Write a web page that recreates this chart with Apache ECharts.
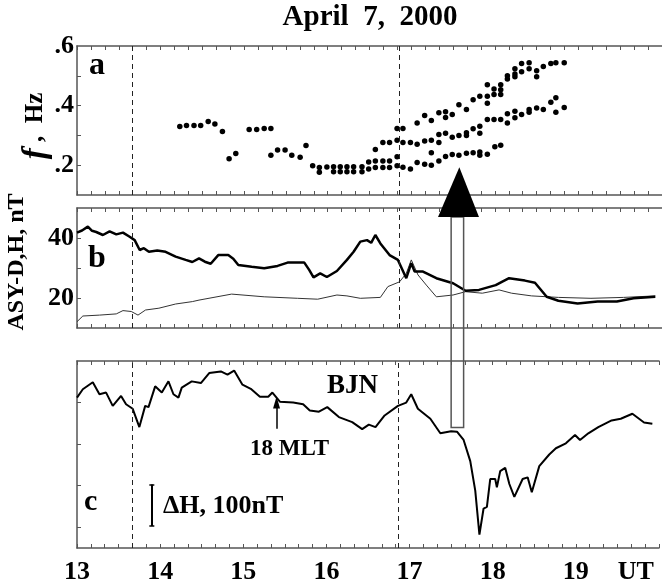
<!DOCTYPE html>
<html>
<head>
<meta charset="utf-8">
<script src="https://cdn.jsdelivr.net/npm/echarts@6/dist/echarts.min.js"></script>
<style>
  html, body { margin: 0; padding: 0; background: #fff; }
  #chart { width: 662px; height: 585px; }
</style>
</head>
<body>
<div id="chart"></div>
<script>
// ---- panel a: Pc1 frequency dots (UT hours, Hz)
var dotT = [14.23, 14.31, 14.40, 14.48, 14.57, 14.65, 14.74, 14.82, 14.90,
  15.06, 15.15, 15.24, 15.32, 15.32, 15.40, 15.49, 15.57, 15.67, 15.74,
  15.82, 15.90, 15.90, 15.99, 16.07, 16.07, 16.15, 16.15, 16.23, 16.23, 16.31, 16.31,
  16.41, 16.41, 16.49, 16.49, 16.57, 16.57, 16.66, 16.66, 16.74, 16.74, 16.83, 16.83,
  16.90, 16.99,
  17.07, 17.16, 17.24, 17.24, 17.33, 17.41, 17.49, 17.57, 17.66, 17.74, 17.82, 17.82, 17.91, 18.00, 18.07,
  16.57, 16.66, 16.74, 16.83, 16.90, 16.99, 17.07, 17.16, 17.24, 17.33, 17.33, 17.41, 17.49, 17.57,
  17.66, 17.66, 17.74, 17.82, 17.82, 17.91, 17.99, 18.07, 18.15, 18.15, 18.24, 18.24, 18.32,
  18.41, 18.41, 18.50, 18.58, 18.67, 18.73, 18.73, 18.83,
  16.83, 16.90, 17.07, 17.16, 17.24, 17.33, 17.41, 17.41, 17.49, 17.57, 17.66, 17.74, 17.82,
  17.91, 17.91, 17.91, 17.99, 17.99, 18.07, 18.07, 18.07, 18.15, 18.15, 18.24, 18.24, 18.24,
  18.32, 18.32, 18.41, 18.41, 18.50, 18.50, 18.58, 18.67, 18.73, 18.83];
var dotF = [0.330, 0.333, 0.333, 0.333, 0.347, 0.338, 0.313, 0.222, 0.239,
  0.320, 0.320, 0.323, 0.323, 0.233, 0.251, 0.251, 0.233, 0.227, 0.266,
  0.198, 0.192, 0.176, 0.194, 0.195, 0.178, 0.195, 0.178, 0.195, 0.178, 0.195, 0.178,
  0.195, 0.178, 0.211, 0.187, 0.214, 0.192, 0.214, 0.192, 0.214, 0.192, 0.228, 0.198,
  0.193, 0.187,
  0.209, 0.203, 0.200, 0.242, 0.214, 0.229, 0.236, 0.233, 0.240, 0.242, 0.244, 0.233, 0.237, 0.262, 0.267,
  0.253, 0.276, 0.276, 0.284, 0.276, 0.276, 0.270, 0.281, 0.284, 0.276, 0.303, 0.307, 0.294, 0.300,
  0.309, 0.300, 0.322, 0.331, 0.307, 0.353, 0.353, 0.353, 0.342, 0.373, 0.381, 0.359, 0.370,
  0.378, 0.387, 0.392, 0.387, 0.411, 0.426, 0.378, 0.394,
  0.323, 0.323, 0.342, 0.367, 0.350, 0.376, 0.360, 0.379, 0.370, 0.403, 0.387, 0.420, 0.431,
  0.431, 0.408, 0.470, 0.437, 0.456, 0.437, 0.453, 0.470, 0.489, 0.500, 0.506, 0.524, 0.497,
  0.541, 0.514, 0.544, 0.524, 0.517, 0.497, 0.531, 0.541, 0.544, 0.544];

// ---- panel b: ASY indices, nT (thick and thin traces)
var asyThickT = [13.00, 13.06, 13.13, 13.18, 13.23, 13.31, 13.39, 13.47, 13.55, 13.63, 13.69, 13.75,
  13.80, 13.86, 13.96, 14.06, 14.18, 14.30, 14.38, 14.46, 14.53, 14.60, 14.69, 14.81, 14.87, 14.93,
  15.09, 15.24, 15.40, 15.52, 15.72, 15.78, 15.83, 15.91, 15.99, 16.11, 16.23, 16.31, 16.39, 16.47,
  16.52, 16.57, 16.63, 16.74, 16.84, 16.94, 17.00, 17.04, 17.14, 17.30, 17.50, 17.65, 17.81, 18.01,
  18.17, 18.36, 18.48, 18.62, 18.76, 18.99, 19.23, 19.46, 19.66, 19.92];
var asyThickV = [41.8, 42.5, 43.8, 42.4, 42.0, 41.0, 42.2, 41.2, 41.8, 40.4, 39.3, 36.0,
  36.6, 35.4, 35.8, 35.4, 33.8, 32.7, 32.0, 33.2, 32.1, 31.4, 34.3, 34.3, 33.1, 31.0,
  30.4, 29.9, 30.7, 31.8, 31.8, 29.3, 26.9, 28.2, 27.0, 29.0, 32.7, 35.4, 38.8, 39.3,
  38.4, 41.0, 38.2, 34.3, 32.7, 26.6, 31.6, 28.8, 28.8, 26.6, 24.9, 22.4, 22.7, 24.3,
  26.6, 25.8, 25.1, 20.4, 19.1, 18.2, 18.8, 18.8, 19.9, 20.4];
var asyThinT = [13.00, 13.07, 13.27, 13.47, 13.55, 13.65, 13.73, 13.82, 13.98, 14.18, 14.38, 14.46,
  14.85, 15.24, 15.64, 15.88, 16.11, 16.23, 16.39, 16.63, 16.72, 16.86, 16.94, 17.00, 17.08, 17.18,
  17.30, 17.50, 17.65, 17.85, 18.05, 18.20, 18.44, 18.76, 19.15, 19.54, 19.92];
var asyThinV = [12.1, 14.0, 14.3, 14.7, 15.8, 15.5, 14.3, 16.0, 16.6, 18.0, 18.8, 19.3,
  21.3, 20.4, 19.9, 19.6, 21.0, 20.7, 19.9, 20.2, 23.8, 25.4, 28.2, 32.7, 27.7, 24.3,
  20.4, 21.0, 22.1, 21.6, 22.7, 21.6, 20.7, 20.2, 19.9, 20.2, 20.7];

// ---- panel c: BJN H component, relative nT
var bjnT = [13.00, 13.07, 13.19, 13.27, 13.35, 13.43, 13.53, 13.59, 13.67, 13.75, 13.82, 13.86,
  13.94, 14.02, 14.10, 14.16, 14.22, 14.26, 14.38, 14.49, 14.59, 14.73, 14.81, 14.89, 14.99,
  15.09, 15.20, 15.30, 15.35, 15.44, 15.60, 15.72, 15.80, 15.91, 16.01, 16.15, 16.31, 16.43,
  16.51, 16.59, 16.70, 16.86, 16.96, 17.02, 17.10, 17.25, 17.37, 17.50, 17.57, 17.65, 17.73, 17.79,
  17.84, 17.89, 17.93, 17.97, 18.03, 18.05, 18.09, 18.15, 18.20, 18.26, 18.36, 18.42, 18.47,
  18.56, 18.68, 18.76, 18.88, 18.99, 19.05, 19.15, 19.27, 19.43, 19.54, 19.68, 19.82, 19.92];
var bjnV = [312, 332, 349, 320, 324, 292, 316, 296, 285, 241, 292, 289,
  339, 324, 351, 320, 312, 336, 351, 347, 371, 375, 367, 377, 343,
  333, 314, 314, 324, 302, 300, 296, 281, 278, 289, 265, 253, 236,
  247, 241, 269, 292, 300, 320, 285, 261, 226, 231, 230, 210, 159, 88,
  -18, 45, 49, 116, 116, 96, 135, 143, 104, 73, 116, 120, 84,
  147, 175, 190, 202, 222, 210, 226, 241, 257, 261, 273, 252, 249];

// event markers (UT) and the big arrow
var eventT = [13.66, 16.86];
var arrowHead = [17.32, 17.81];
var arrowShaft = [17.50, 17.65];

function zip(a, b) { return a.map(function (t, i) { return [t, b[i]]; }); }

var serif = '"Liberation Serif", "DejaVu Serif", serif';
var frame = '#555';
var lefts = 77;
var grids = [
  { left: lefts, right: -7, top: 46, height: 149 },
  { left: lefts, right: -7, top: 208, height: 120 },
  { left: lefts, right: -7, top: 361, height: 191 }
];

function xAx(i, pos) {
  return {
    gridIndex: i, type: 'value', position: pos, min: 13, max: 20, interval: 1,
    axisLine: { show: true, onZero: false, lineStyle: { color: frame, width: 1.5 } },
    axisTick: { show: true, inside: true, length: 4, lineStyle: { color: frame } },
    minorTick: { show: true, splitNumber: 6, length: 4, lineStyle: { color: frame } },
    splitLine: { show: false },
    axisLabel: {
      show: i === 2 && pos === 'bottom', margin: 11,
      color: '#000', fontFamily: serif, fontWeight: 'bold', fontSize: 26,
      formatter: function (v) { return v >= 20 ? '' : String(v); }
    }
  };
}
function yAx(i, min, max, ticks, labels, fmt) {
  return {
    gridIndex: i, type: 'value', min: min, max: max,
    axisLine: { show: true, onZero: false, lineStyle: { color: frame, width: 1.5 } },
    axisTick: { show: true, inside: true, length: 4, customValues: ticks, lineStyle: { color: frame } },
    splitLine: { show: false },
    axisLabel: {
      show: labels.length > 0, customValues: labels, margin: 3,
      color: '#000', fontFamily: serif, fontWeight: 'bold', fontSize: 26, formatter: fmt
    }
  };
}

var dashed = {
  silent: true, animation: false, symbol: 'none', label: { show: false },
  lineStyle: { type: [5, 4], color: '#222', width: 1 },
  data: eventT.map(function (t) { return { xAxis: t }; })
};

var chart = echarts.init(document.getElementById('chart'));
var option = {
  backgroundColor: '#fff',
  animation: false,
  grid: grids,
  xAxis: [xAx(0, 'bottom'), xAx(1, 'bottom'), xAx(2, 'bottom'), xAx(0, 'top'), xAx(1, 'top'), xAx(2, 'top')],
  yAxis: [
    yAx(0, 0.1, 0.6, [0.2, 0.3, 0.4, 0.5], [0.2, 0.4, 0.6], function (v) { return '.' + Math.round(v * 10); }),
    yAx(1, 10, 50, [20, 30, 40], [20, 40], function (v) { return String(v); }),
    yAx(2, -50, 400, [0, 100, 200, 300], [], null)
  ],
  series: [
    {
      type: 'scatter', xAxisIndex: 0, yAxisIndex: 0, data: zip(dotT, dotF),
      symbol: 'circle', symbolSize: 5.5, itemStyle: { color: '#000', opacity: 1 }, markLine: dashed
    },
    {
      type: 'line', xAxisIndex: 1, yAxisIndex: 1, data: zip(asyThinT, asyThinV), showSymbol: false,
      lineStyle: { color: '#333', width: 1 }, markLine: dashed
    },
    {
      type: 'line', xAxisIndex: 1, yAxisIndex: 1, data: zip(asyThickT, asyThickV), showSymbol: false,
      lineStyle: { color: '#000', width: 2.5 }
    },
    {
      type: 'line', xAxisIndex: 2, yAxisIndex: 2, data: zip(bjnT, bjnV), showSymbol: false,
      lineStyle: { color: '#000', width: 2 },
      markLine: {
        silent: true, animation: false, symbol: 'none', label: { show: false },
        lineStyle: { type: [5, 4], color: '#222', width: 1 },
        data: [
          { xAxis: eventT[0] }, { xAxis: eventT[1] },
          [{ coord: [15.40, 237], symbol: 'none', lineStyle: { type: 'solid', color: '#000', width: 1.5 } },
           { coord: [15.40, 300], symbol: 'triangle', symbolSize: [7, 12] }],
          [{ coord: [13.90, 3], lineStyle: { type: 'solid', color: '#000', width: 2 } }, { coord: [13.90, 103] }],
          [{ coord: [13.87, 3], lineStyle: { type: 'solid', color: '#000', width: 1.5 } }, { coord: [13.93, 3] }],
          [{ coord: [13.87, 103], lineStyle: { type: 'solid', color: '#000', width: 1.5 } }, { coord: [13.93, 103] }]
        ]
      }
    }
  ]
};
chart.setOption(option);

// big arrow spanning the panels (head in a/b, open shaft down into c)
var pTip = chart.convertToPixel({ xAxisIndex: 0, yAxisIndex: 0 }, [(arrowShaft[0] + arrowShaft[1]) / 2, 0.193]);
var pHl = chart.convertToPixel({ xAxisIndex: 1, yAxisIndex: 1 }, [arrowHead[0], 47]);
var pHr = chart.convertToPixel({ xAxisIndex: 1, yAxisIndex: 1 }, [arrowHead[1], 47]);
var pS1 = chart.convertToPixel({ xAxisIndex: 2, yAxisIndex: 2 }, [arrowShaft[0], 240]);
var pS2 = chart.convertToPixel({ xAxisIndex: 2, yAxisIndex: 2 }, [arrowShaft[1], 240]);
var pUT = chart.convertToPixel({ xAxisIndex: 2, yAxisIndex: 2 }, [19.72, -50]);

var txt = function (x, y, s, font, extra) {
  var o = { type: 'text', x: x, y: y, style: { text: s, font: font, fill: '#000' } };
  if (extra) { for (var k in extra) o.style[k] = extra[k]; }
  return o;
};

chart.setOption({
  graphic: [
    {
      type: 'rect', z: 10,
      shape: { x: pS1[0], y: pHl[1], width: pS2[0] - pS1[0], height: pS1[1] - pHl[1] },
      style: { fill: 'none', stroke: frame, lineWidth: 1.5 }
    },
    {
      type: 'polygon', z: 11,
      shape: { points: [[pHl[0], pHl[1]], [pHr[0], pHr[1]], [pTip[0], pTip[1]]] },
      style: { fill: '#000' }
    },
    txt(370, 3, 'April  7,  2000', 'bold 29px ' + serif, { textAlign: 'center' }),
    txt(89, 50, 'a', 'bold 32px ' + serif),
    txt(88, 243, 'b', 'bold 32px ' + serif),
    txt(84, 487, 'c', 'bold 30px ' + serif),
    {
      type: 'text', x: 36, y: 126, rotation: Math.PI / 2,
      style: {
        text: '{i|f} ,  Hz', font: 'bold 25px ' + serif, fill: '#000',
        textAlign: 'center', textVerticalAlign: 'middle',
        rich: { i: { fontStyle: 'italic', fontWeight: 'bold', fontSize: 33, fontFamily: serif } }
      }
    },
    {
      type: 'text', x: 17, y: 262, rotation: Math.PI / 2,
      style: { text: 'ASY-D,H, nT', font: 'bold 24px ' + serif, fill: '#000', textAlign: 'center', textVerticalAlign: 'middle' }
    },
    txt(327, 373, 'BJN', 'bold 27px ' + serif),
    txt(250, 438, '18 MLT', 'bold 23px ' + serif),
    txt(163, 493, '\u0394H, 100nT', 'bold 26px ' + serif),
    txt(pUT[0], pUT[1] + 11, 'UT', 'bold 26px ' + serif, { textAlign: 'center' })
  ]
});
</script>
</body>
</html>
